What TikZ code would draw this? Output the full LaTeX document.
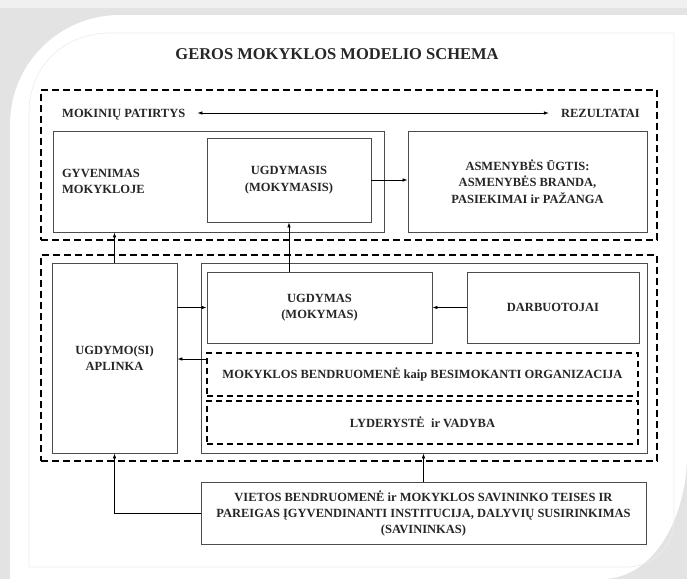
\documentclass[tikz,border=0pt]{standalone}
\usepackage{fontspec}
\setmainfont{Liberation Serif}
\usetikzlibrary{arrows.meta}

\begin{document}
\begin{tikzpicture}[x=1pt, y=-1pt,
    every node/.style={font=\fontsize{12.5}{16.5}\selectfont\bfseries, text=black!85},
    solidbox/.style={draw=black!70, line width=0.9pt, align=center},
    dashbox/.style={draw, line width=1.6pt, dash pattern=on 7pt off 4pt},
    innerdash/.style={draw, line width=1.2pt, dash pattern=on 6pt off 4pt, align=center},
    arr/.style={-{Latex[length=5pt, width=3.6pt]}, line width=0.7pt},
    dblarr/.style={{Latex[length=5pt, width=3.6pt]}-{Latex[length=5pt, width=3.6pt]}, line width=0.7pt}]
    \useasboundingbox (0,0) rectangle (687,579);
    \fill[gray!22] (0,0) rectangle (687,579);
    \fill[gray!12] (0,0) rectangle (687,8);
    \fill[white] (10,579) -- (10,125) .. controls (10,64) and (59,15) .. (120,15)
    -- (687,15) -- (687,455) .. controls (687,515) and (655,579) .. (602,579) -- cycle;
    \draw[gray!15, line width=0.6pt] (29,567) -- (29,113) .. controls (29,67) and (63,33) .. (110,33)
    -- (674,33) -- (674,520) .. controls (674,546) and (653,567) .. (627,567) -- cycle;

    \node[font=\fontsize{16.5}{20}\selectfont\bfseries] (title) at (337,54) {GEROS MOKYKLOS MODELIO SCHEMA};

    \node[dashbox, minimum width=616pt, minimum height=150pt] (patirtysbox) at (349,165) {};
    \node[anchor=base west, inner sep=0pt] (patirtys) at (62,117) {MOKINIŲ PATIRTYS};
    \node[anchor=base east, inner sep=0pt] (rezultatai) at (640,117) {REZULTATAI};
    \draw[dblarr, shorten <=12pt, shorten >=12pt]
    ([yshift=4pt]patirtys.base east) -- ([yshift=4pt]rezultatai.base west);

    \node[solidbox, minimum width=331pt, minimum height=101pt, text width=313pt,
    inner xsep=9pt, align=left] (gyvenimas) at (218.5,181.5) {GYVENIMAS\\MOKYKLOJE};
    \node[solidbox, minimum width=164pt, minimum height=84pt] (ugdymasis) at (289,180)
    {UGDYMASIS\\(MOKYMASIS)};
    \node[solidbox, minimum width=239pt, minimum height=101pt] (asmenybe) at (527.5,181.5)
    {ASMENYBĖS ŪGTIS:\\ASMENYBĖS BRANDA,\\PASIEKIMAI ir PAŽANGA};

    \node[dashbox, minimum width=616pt, minimum height=206pt] (salygosbox) at (349,358) {};
    \node[solidbox, minimum width=125pt, minimum height=190pt] (aplinka) at (114.5,358)
    {UGDYMO(SI)\\APLINKA};
    \node[solidbox, minimum width=446pt, minimum height=190pt] (mokykla) at (424,358) {};
    \node[solidbox, minimum width=225pt, minimum height=71pt] (ugdymas) at (319.5,307.5)
    {UGDYMAS\\(MOKYMAS)};
    \node[solidbox, minimum width=172pt, minimum height=71pt] (darbuotojai) at (553,307.5)
    {DARBUOTOJAI};
    \node[innerdash, minimum width=431pt, minimum height=43pt] (bendruomene) at (422.5,374.5)
    {MOKYKLOS BENDRUOMENĖ kaip BESIMOKANTI ORGANIZACIJA};
    \node[innerdash, minimum width=431pt, minimum height=43pt] (lyderyste) at (422.5,422.5)
    {LYDERYSTĖ\ \ ir VADYBA};

    \node[solidbox, minimum width=445pt, minimum height=62pt,
    font=\fontsize{12.5}{16}\selectfont\bfseries] (vietos) at (423.5,513)
    {VIETOS BENDRUOMENĖ ir MOKYKLOS SAVININKO TEISES IR\\PAREIGAS ĮGYVENDINANTI INSTITUCIJA, DALYVIŲ SUSIRINKIMAS\\(SAVININKAS)};

    \draw[arr] (ugdymasis.east) -- (ugdymasis.east -| asmenybe.west);
    \draw[arr] (aplinka.north) -- (aplinka.north |- gyvenimas.south);
    \draw[arr] (ugdymas.north -| ugdymasis.south) -- (ugdymasis.south);
    \draw[arr] (aplinka.east |- ugdymas.west) -- (ugdymas.west);
    \draw[arr] (darbuotojai.west) -- (ugdymas.east);
    \coordinate (bendrarrow) at ([yshift=15.5pt]bendruomene.west);
    \draw[arr] (bendrarrow) -- (bendrarrow -| aplinka.east);
    \draw[arr] (vietos.west) -| (aplinka.south);
    \draw[arr] (vietos.north) -- (vietos.north |- mokykla.south);
\end{tikzpicture}
\end{document}
